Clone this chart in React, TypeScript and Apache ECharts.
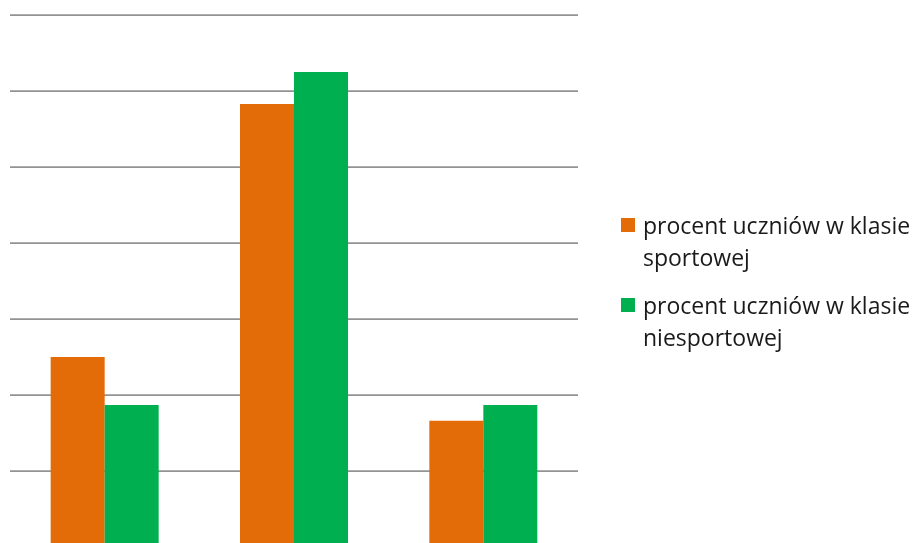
import React, { useEffect, useRef } from "react";
import * as echarts from "echarts";

const categories = ["A", "B", "C"];
const seriesNames = ["procent uczniów w klasie sportowej", "procent uczniów w klasie niesportowej"];
const legendLines = [
  ["procent uczniów w klasie", "sportowej"],
  ["procent uczniów w klasie", "niesportowej"],
];
const sportowa = [25.0, 58.3, 16.6];
const niesportowa = [18.7, 62.5, 18.7];
const colors = ["#E36C09", "#00B050"];

export default function App() {
  const ref = useRef<HTMLDivElement>(null);
  useEffect(() => {
    document.body.style.margin = "0";
    document.body.style.overflow = "hidden";
    const chart = echarts.init(ref.current!, undefined, { renderer: "svg" });
    const font = "'Open Sans', sans-serif";
    const legendGraphics: any[] = [];
    const legendTop = [218, 298];
    legendLines.forEach((lines, i) => {
      legendGraphics.push({
        type: "rect",
        shape: { x: 621, y: legendTop[i], width: 14, height: 14 },
        style: { fill: colors[i] },
      });
      lines.forEach((t, j) => {
        legendGraphics.push({
          type: "text",
          x: 643,
          y: legendTop[i] + 7 + j * 32,
          style: { text: t, fill: "#1a1a1a", font: `23px ${font}`, verticalAlign: "middle", align: "left" },
        });
      });
    });
    chart.setOption({
      animation: false,
      grid: { left: 10, top: 15, width: 568, bottom: 13, containLabel: false },
      xAxis: {
        type: "category",
        data: categories,
        axisLine: { show: false },
        axisTick: { show: false },
        axisLabel: { show: false },
      },
      yAxis: {
        type: "value",
        min: 0,
        max: 70,
        interval: 10,
        axisLabel: { show: false },
        axisLine: { show: false },
        axisTick: { show: false },
        splitLine: { lineStyle: { color: "#939393", width: 1.75 } },
      },
      series: [
        { name: seriesNames[0], type: "bar", data: sportowa, barWidth: 54, barGap: "0%", itemStyle: { color: colors[0] } },
        { name: seriesNames[1], type: "bar", data: niesportowa, barWidth: 54, barGap: "0%", itemStyle: { color: colors[1] } },
      ],
      graphic: legendGraphics,
    });
    return () => chart.dispose();
  }, []);
  return <div ref={ref} style={{ position: "fixed", left: 0, top: 0, width: 917, height: 560 }} />;
}
